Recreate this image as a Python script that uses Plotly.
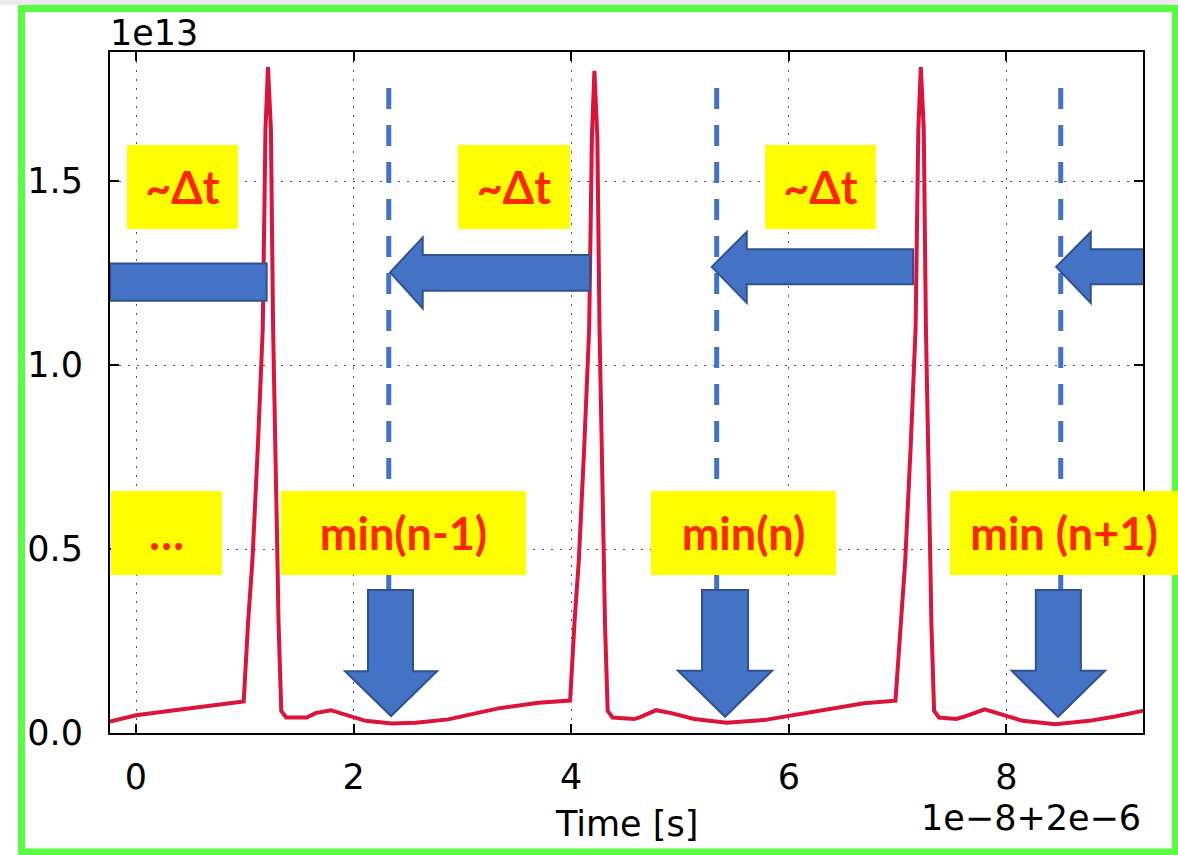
import plotly.graph_objects as go

# ---------------- data (time offset in 1e-8 s, value in 1e13) ----------------
time_offset = [
    -0.24, 0.00, 0.30, 0.59, 0.80, 0.99,
    1.03, 1.07, 1.12, 1.165, 1.19, 1.213,
    1.24, 1.26, 1.30, 1.31, 1.335, 1.38,
    1.57, 1.65, 1.79, 1.93, 2.00, 2.11, 2.35, 2.57, 2.87, 3.18, 3.33, 3.70, 3.99,
    4.03, 4.07, 4.12, 4.165, 4.19, 4.213,
    4.24, 4.26, 4.30, 4.31, 4.335, 4.38,
    4.58, 4.64, 4.78, 4.92, 5.13, 5.43, 5.77, 5.98, 6.38, 6.69, 6.98,
    7.03, 7.07, 7.12, 7.165, 7.19, 7.213,
    7.24, 7.26, 7.30, 7.31, 7.335, 7.38,
    7.54, 7.62, 7.80, 7.97, 8.15, 8.45, 8.76, 9.00, 9.26,
]
signal_1e13 = [
    0.031, 0.048, 0.060, 0.070, 0.078, 0.086,
    0.30, 0.47, 0.78, 1.10, 1.64, 1.81,
    1.64, 1.10, 0.47, 0.30, 0.06, 0.042,
    0.042, 0.054, 0.062, 0.049, 0.043, 0.033, 0.026, 0.028, 0.037, 0.058, 0.067, 0.082, 0.088,
    0.30, 0.47, 0.78, 1.10, 1.62, 1.80,
    1.62, 1.10, 0.47, 0.30, 0.06, 0.042,
    0.038, 0.044, 0.062, 0.054, 0.038, 0.028, 0.035, 0.046, 0.065, 0.081, 0.088,
    0.30, 0.47, 0.78, 1.10, 1.64, 1.81,
    1.64, 1.10, 0.47, 0.30, 0.06, 0.042,
    0.038, 0.045, 0.064, 0.049, 0.033, 0.024, 0.033, 0.045, 0.061,
]

x_tick_vals = [0, 2, 4, 6, 8]
x_tick_text = ["0", "2", "4", "6", "8"]
y_tick_vals = [0.0, 0.5, 1.0, 1.5]
y_tick_text = ["0.0", "0.5", "1.0", "1.5"]

x_label = "Time [s]"
x_offset_text = "1e\u22128+2e\u22126"
y_offset_text = "1e13"

delta_labels = ["~\u0394t", "~\u0394t", "~\u0394t"]
min_labels = ["\u2026", "min(n-1)", "min(n)", "min (n+1)"]

# ---------------- styling / geometry ----------------
W, H = 1178, 855
ML, MR, MT, MB = 110, 35, 52, 122
PW, PH = W - ML - MR, H - MT - MB
X_RANGE = [-0.239, 9.255]
Y_RANGE = [0.0, 1.851]

BLUE = "#4472C4"
BLUE_EDGE = "#2F528F"
YELLOW = "#FFFF00"
LABEL_RED = "#FF2600"
LINE_RED = "#DC143C"
GREEN = "#58FC40"
AX_FONT = "DejaVu Sans"
LBL_FONT = "Lato, Carlito, 'Open Sans', sans-serif"
LBL_SIZE = 45


def px_x(px):
    return (px - ML) / PW


def px_y(py):
    return (H - MB - py) / PH


fig = go.Figure()
fig.add_trace(go.Scatter(
    x=time_offset, y=signal_1e13, mode="lines",
    line=dict(color=LINE_RED, width=4), hoverinfo="skip", showlegend=False,
))

shapes = []

# outer green frame + top grey strip
shapes.append(dict(type="rect", xref="paper", yref="paper",
                   x0=px_x(0), x1=px_x(W), y0=px_y(0), y1=px_y(5),
                   fillcolor="#EBEBEB", line=dict(width=0), layer="below"))
shapes.append(dict(type="rect", xref="paper", yref="paper",
                   x0=px_x(21.5), x1=px_x(1175.5), y0=px_y(852), y1=px_y(8.5),
                   line=dict(color=GREEN, width=7), fillcolor="rgba(0,0,0,0)", layer="above"))

# dashed vertical marker lines (data coords)
for xv in [2.323, 5.337, 8.499]:
    shapes.append(dict(type="line", xref="x", yref="y", x0=xv, x1=xv, y0=0.389, y1=1.769,
                       line=dict(color=BLUE, width=5, dash="21px,16px"), layer="above"))


def left_arrow(tip_x, tip_y, base_x, head_top, head_bot, shaft_top, shaft_bot, right_x):
    p = (f"M{tip_x},{tip_y} L{base_x},{head_top} L{base_x},{shaft_top} "
         f"L{right_x},{shaft_top} L{right_x},{shaft_bot} L{base_x},{shaft_bot} "
         f"L{base_x},{head_bot} Z")
    return dict(type="path", xref="x", yref="y", path=p, fillcolor=BLUE,
                line=dict(color=BLUE_EDGE, width=2), layer="above")


def down_arrow(sx0, sx1, top, base_y, hx0, hx1, tip_x, tip_y):
    p = (f"M{sx0},{top} L{sx1},{top} L{sx1},{base_y} L{hx1},{base_y} "
         f"L{tip_x},{tip_y} L{hx0},{base_y} L{sx0},{base_y} Z")
    return dict(type="path", xref="x", yref="y", path=p, fillcolor=BLUE,
                line=dict(color=BLUE_EDGE, width=2), layer="above")


# leftmost arrow (only its shaft visible)
shapes.append(dict(type="rect", xref="x", yref="y", x0=-0.239, x1=1.201, y0=1.175, y1=1.276,
                   fillcolor=BLUE, line=dict(color=BLUE_EDGE, width=2), layer="above"))
shapes.append(left_arrow(2.335, 1.252, 2.635, 1.347, 1.154, 1.299, 1.202, 4.173))
shapes.append(left_arrow(5.291, 1.267, 5.613, 1.362, 1.169, 1.315, 1.220, 7.142))
shapes.append(left_arrow(8.456, 1.267, 8.775, 1.362, 1.169, 1.315, 1.220, 9.30))

shapes.append(down_arrow(2.132, 2.546, 0.389, 0.168, 1.921, 2.767, 2.344, 0.046))
shapes.append(down_arrow(5.202, 5.625, 0.389, 0.169, 4.982, 5.846, 5.414, 0.044))
shapes.append(down_arrow(8.270, 8.684, 0.389, 0.169, 8.049, 8.906, 8.474, 0.044))

annotations = []

# yellow label boxes (centre x in data units, width in px)
delta_boxes = [(0.427, 111), (3.470, 112), (6.291, 111)]
for (cx, bw), txt in zip(delta_boxes, delta_labels):
    annotations.append(dict(xref="x", yref="y", x=cx, y=1.484, xanchor="center", yanchor="middle",
                            text=f"<b>{txt}</b>", showarrow=False, width=bw, height=84,
                            bgcolor=YELLOW, borderpad=0, borderwidth=0, align="center", valign="middle",
                            font=dict(family=LBL_FONT, size=LBL_SIZE, color=LABEL_RED)))

min_boxes = [(0.280, 111), (2.459, 245), (5.584, 185), (8.529, 228)]
for (cx, bw), txt in zip(min_boxes, min_labels):
    annotations.append(dict(xref="x", yref="y", x=cx, y=0.543, xanchor="center", yanchor="middle",
                            text=f"<b>{txt}</b>", showarrow=False, width=bw, height=84,
                            bgcolor=YELLOW, borderpad=0, borderwidth=0, align="center", valign="middle",
                            font=dict(family=LBL_FONT, size=LBL_SIZE, color=LABEL_RED)))

# axis texts
annotations.append(dict(xref="paper", yref="paper", x=px_x(108), y=px_y(33), xanchor="left",
                        yanchor="middle", text=y_offset_text, showarrow=False,
                        font=dict(family=AX_FONT, size=35, color="black")))
annotations.append(dict(xref="paper", yref="paper", x=0.5, y=px_y(824), xanchor="center",
                        yanchor="middle", text=x_label, showarrow=False,
                        font=dict(family=AX_FONT, size=35, color="black")))
annotations.append(dict(xref="paper", yref="paper", x=px_x(1143), y=px_y(818), xanchor="right",
                        yanchor="middle", text=x_offset_text, showarrow=False,
                        font=dict(family=AX_FONT, size=35, color="black")))

axis_common = dict(
    showline=True, linecolor="black", linewidth=2, mirror="allticks",
    ticks="inside", ticklen=9, tickwidth=1.5, tickcolor="black",
    showgrid=True, gridcolor="#555555", gridwidth=1.3, griddash="2px,7px",
    zeroline=False, tickfont=dict(family=AX_FONT, size=35, color="black"),
)

fig.update_layout(
    width=W, height=H, autosize=False,
    margin=dict(l=ML, r=MR, t=MT, b=MB, pad=0),
    paper_bgcolor="white", plot_bgcolor="white",
    showlegend=False,
    xaxis=dict(range=X_RANGE, tickvals=x_tick_vals, ticktext=x_tick_text,
               ticklabelstandoff=12, **axis_common),
    yaxis=dict(range=Y_RANGE, tickvals=y_tick_vals, ticktext=y_tick_text,
               ticklabelstandoff=18, **axis_common),
    shapes=shapes,
    annotations=annotations,
)

fig.write_html("out.html", config={"displayModeBar": False},
               post_script="document.body.style.margin='0';document.body.style.overflow='hidden';")
